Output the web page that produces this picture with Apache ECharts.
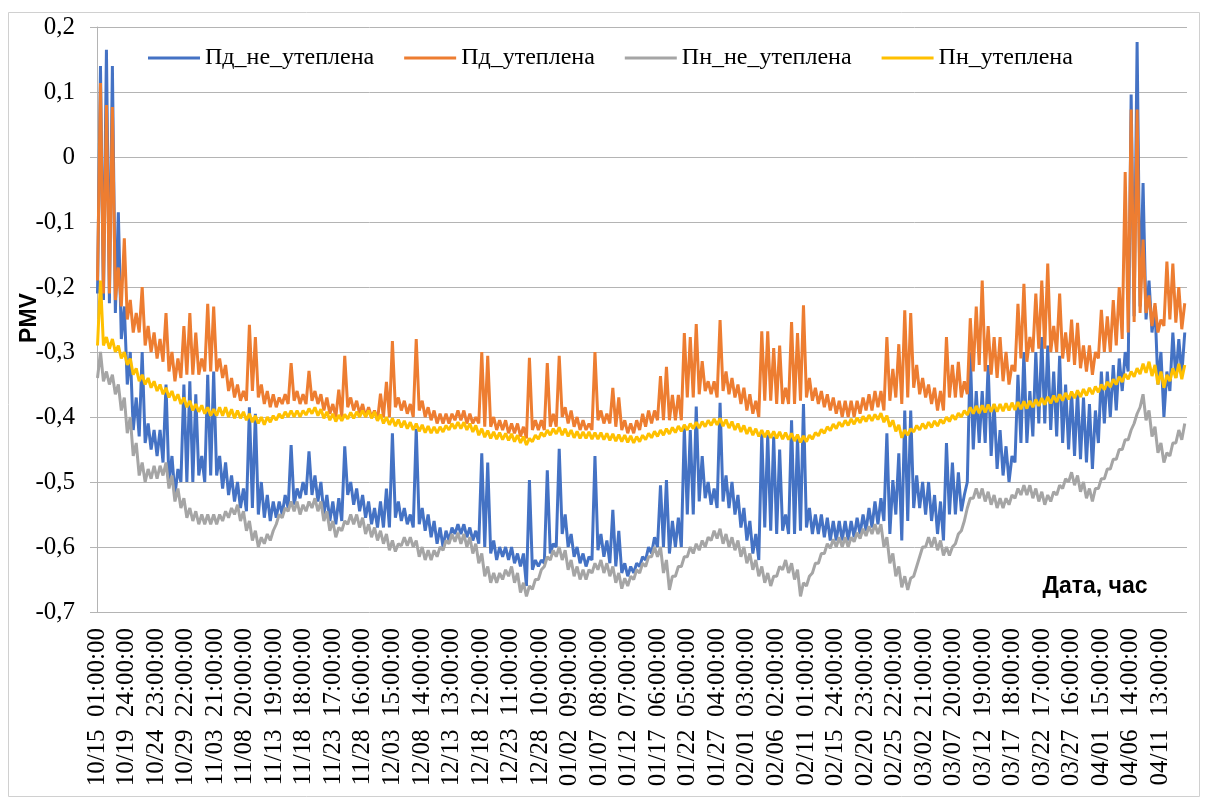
<!DOCTYPE html>
<html>
<head>
<meta charset="utf-8">
<script src="https://cdn.jsdelivr.net/npm/echarts@6/dist/echarts.min.js"></script>
<style>
  html, body { margin: 0; padding: 0; background: #fff; }
  #chart { width: 1208px; height: 801px; }
</style>
</head>
<body>
<div id="chart"></div>
<script>
// Category tick labels, one every 119 hours starting at 10/15 01:00
const tickLabels = [
  '10/15 01:00:00', '10/19 24:00:00', '10/24 23:00:00', '10/29 22:00:00', '11/03 21:00:00',
  '11/08 20:00:00', '11/13 19:00:00', '11/18 18:00:00', '11/23 17:00:00', '11/28 16:00:00',
  '12/03 15:00:00', '12/08 14:00:00', '12/13 13:00:00', '12/18 12:00:00', '12/23 11:00:00',
  '12/28 10:00:00', '01/02 09:00:00', '01/07 08:00:00', '01/12 07:00:00', '01/17 06:00:00',
  '01/22 05:00:00', '01/27 04:00:00', '02/01 03:00:00', '02/06 02:00:00', '02/11 01:00:00',
  '02/15 24:00:00', '02/20 23:00:00', '02/25 22:00:00', '03/02 21:00:00', '03/07 20:00:00',
  '03/12 19:00:00', '03/17 18:00:00', '03/22 17:00:00', '03/27 16:00:00', '04/01 15:00:00',
  '04/06 14:00:00', '04/11 13:00:00'
];
const TICK_STEP_HOURS = 119;
const LAST_HOUR = 4391;

const seriesNames = ['Пд_не_утеплена', 'Пд_утеплена', 'Пн_не_утеплена', 'Пн_утеплена'];

// Daily PMV values (day 0 = 10/15): night low and daytime high for each series
const pdNeHigh = [
  0.14, 0.165, 0.14, -0.085, -0.23, -0.30, -0.37, -0.30, -0.41, -0.42,
  -0.42, -0.35, -0.46, -0.48, -0.35, -0.345, -0.365, -0.46, -0.335, -0.33,
  -0.46, -0.47, -0.49, -0.50, -0.51, -0.385, -0.395, -0.50, -0.52, -0.53,
  -0.53, -0.52, -0.443, -0.51, -0.50, -0.453, -0.49, -0.50, -0.52, -0.53,
  -0.525, -0.445, -0.50, -0.51, -0.52, -0.53, -0.54, -0.53, -0.51, -0.425,
  -0.53, -0.54, -0.55, -0.418, -0.54, -0.55, -0.56, -0.57, -0.575, -0.57,
  -0.565, -0.565, -0.57, -0.575, -0.456, -0.47, -0.59, -0.60, -0.60, -0.60,
  -0.61, -0.61, -0.497, -0.62, -0.62, -0.482, -0.595, -0.449, -0.55, -0.58,
  -0.60, -0.61, -0.615, -0.46, -0.58, -0.59, -0.543, -0.575, -0.625, -0.63,
  -0.625, -0.615, -0.60, -0.585, -0.505, -0.497, -0.56, -0.555, -0.416, -0.42,
  -0.384, -0.46, -0.50, -0.51, -0.378, -0.49, -0.50, -0.52, -0.54, -0.56,
  -0.58, -0.425, -0.427, -0.43, -0.45, -0.55, -0.405, -0.43, -0.38, -0.54,
  -0.55, -0.55, -0.555, -0.56, -0.56, -0.56, -0.56, -0.555, -0.55, -0.54,
  -0.53, -0.525, -0.425, -0.497, -0.456, -0.39, -0.39, -0.49, -0.50, -0.50,
  -0.52, -0.53, -0.44, -0.47, -0.485, -0.52, -0.30, -0.36, -0.36, -0.32,
  -0.38, -0.42, -0.445, -0.46, -0.335, -0.30, -0.36, -0.30, -0.277, -0.29,
  -0.33, -0.306, -0.35, -0.36, -0.36, -0.37, -0.38, -0.39, -0.33, -0.33,
  -0.32, -0.31, -0.30, 0.096, 0.177, -0.04, -0.19, -0.23, -0.30, -0.33,
  -0.27, -0.28, -0.27
];
const pdNeLow = [
  -0.21, -0.22, -0.225, -0.24, -0.28, -0.35, -0.42, -0.43, -0.44, -0.45,
  -0.46, -0.47, -0.50, -0.52, -0.50, -0.50, -0.50, -0.49, -0.50, -0.49,
  -0.49, -0.51, -0.52, -0.53, -0.54, -0.545, -0.54, -0.55, -0.555, -0.56,
  -0.555, -0.55, -0.54, -0.535, -0.525, -0.52, -0.52, -0.53, -0.55, -0.56,
  -0.565, -0.56, -0.52, -0.535, -0.545, -0.555, -0.565, -0.57, -0.57, -0.57,
  -0.555, -0.56, -0.565, -0.57, -0.565, -0.575, -0.585, -0.595, -0.60, -0.59,
  -0.58, -0.58, -0.585, -0.59, -0.595, -0.60, -0.61, -0.62, -0.615, -0.62,
  -0.625, -0.63, -0.66, -0.635, -0.63, -0.625, -0.61, -0.60, -0.58, -0.60,
  -0.615, -0.625, -0.63, -0.62, -0.605, -0.615, -0.625, -0.63, -0.64, -0.645,
  -0.64, -0.63, -0.62, -0.61, -0.60, -0.60, -0.61, -0.60, -0.60, -0.55,
  -0.55, -0.53, -0.525, -0.535, -0.54, -0.53, -0.54, -0.55, -0.57, -0.59,
  -0.61, -0.62, -0.57, -0.575, -0.58, -0.575, -0.58, -0.58, -0.575, -0.57,
  -0.58, -0.58, -0.585, -0.59, -0.59, -0.59, -0.59, -0.585, -0.58, -0.575,
  -0.57, -0.565, -0.56, -0.58, -0.55, -0.59, -0.56, -0.54, -0.54, -0.55,
  -0.56, -0.58, -0.59, -0.55, -0.55, -0.545, -0.50, -0.45, -0.44, -0.44,
  -0.46, -0.48, -0.49, -0.50, -0.47, -0.44, -0.44, -0.43, -0.41, -0.41,
  -0.42, -0.43, -0.44, -0.45, -0.46, -0.465, -0.47, -0.48, -0.44, -0.41,
  -0.40, -0.39, -0.36, -0.33, -0.245, -0.23, -0.25, -0.27, -0.35, -0.40,
  -0.36, -0.34, -0.335
];
const pdUtHigh = [
  0.114, 0.08, 0.077, -0.17, -0.125, -0.22, -0.24, -0.20, -0.26, -0.27,
  -0.28, -0.24, -0.30, -0.31, -0.26, -0.24, -0.27, -0.31, -0.226, -0.23,
  -0.31, -0.32, -0.34, -0.35, -0.36, -0.258, -0.277, -0.35, -0.36, -0.365,
  -0.37, -0.365, -0.317, -0.36, -0.365, -0.329, -0.36, -0.365, -0.37, -0.38,
  -0.358, -0.306, -0.37, -0.375, -0.38, -0.385, -0.39, -0.364, -0.346, -0.283,
  -0.37, -0.375, -0.38, -0.28, -0.375, -0.385, -0.39, -0.395, -0.395, -0.395,
  -0.39, -0.39, -0.395, -0.40, -0.30, -0.306, -0.40, -0.405, -0.405, -0.41,
  -0.41, -0.415, -0.309, -0.405, -0.405, -0.317, -0.395, -0.306, -0.385, -0.39,
  -0.40, -0.405, -0.41, -0.30, -0.39, -0.395, -0.355, -0.37, -0.405, -0.41,
  -0.405, -0.395, -0.39, -0.39, -0.337, -0.323, -0.366, -0.366, -0.271, -0.277,
  -0.257, -0.314, -0.345, -0.345, -0.251, -0.33, -0.34, -0.35, -0.355, -0.365,
  -0.375, -0.268, -0.268, -0.294, -0.29, -0.355, -0.254, -0.271, -0.228, -0.34,
  -0.355, -0.36, -0.365, -0.37, -0.375, -0.375, -0.375, -0.375, -0.37, -0.365,
  -0.36, -0.36, -0.277, -0.326, -0.288, -0.236, -0.24, -0.32, -0.34, -0.35,
  -0.355, -0.36, -0.277, -0.32, -0.315, -0.345, -0.248, -0.23, -0.19, -0.26,
  -0.277, -0.277, -0.30, -0.32, -0.226, -0.195, -0.277, -0.21, -0.19, -0.164,
  -0.26, -0.21, -0.27, -0.25, -0.255, -0.29, -0.29, -0.30, -0.235, -0.245,
  -0.22, -0.20, -0.023, 0.073, 0.073, -0.127, -0.213, -0.225, -0.25, -0.161,
  -0.164, -0.20, -0.225
];
const pdUtLow = [
  -0.19, -0.21, -0.21, -0.22, -0.23, -0.25, -0.27, -0.27, -0.29, -0.30,
  -0.31, -0.315, -0.33, -0.345, -0.34, -0.335, -0.335, -0.335, -0.33, -0.33,
  -0.33, -0.34, -0.36, -0.37, -0.375, -0.375, -0.36, -0.37, -0.38, -0.385,
  -0.385, -0.38, -0.38, -0.375, -0.38, -0.38, -0.375, -0.38, -0.39, -0.395,
  -0.40, -0.40, -0.385, -0.39, -0.395, -0.40, -0.40, -0.405, -0.40, -0.40,
  -0.385, -0.39, -0.395, -0.40, -0.39, -0.40, -0.405, -0.41, -0.41, -0.41,
  -0.405, -0.405, -0.41, -0.41, -0.41, -0.415, -0.415, -0.42, -0.42, -0.425,
  -0.425, -0.43, -0.433, -0.42, -0.42, -0.42, -0.415, -0.415, -0.40, -0.41,
  -0.415, -0.42, -0.42, -0.42, -0.405, -0.41, -0.41, -0.415, -0.42, -0.425,
  -0.425, -0.42, -0.415, -0.41, -0.405, -0.405, -0.405, -0.405, -0.405, -0.37,
  -0.37, -0.365, -0.36, -0.365, -0.37, -0.36, -0.365, -0.37, -0.38, -0.39,
  -0.395, -0.40, -0.375, -0.375, -0.38, -0.38, -0.38, -0.38, -0.375, -0.37,
  -0.375, -0.38, -0.385, -0.39, -0.395, -0.40, -0.40, -0.40, -0.395, -0.39,
  -0.39, -0.385, -0.39, -0.375, -0.37, -0.38, -0.37, -0.355, -0.365, -0.37,
  -0.38, -0.39, -0.39, -0.37, -0.37, -0.37, -0.365, -0.33, -0.32, -0.33,
  -0.335, -0.34, -0.345, -0.35, -0.33, -0.31, -0.315, -0.30, -0.295, -0.295,
  -0.30, -0.30, -0.31, -0.315, -0.32, -0.325, -0.33, -0.335, -0.31, -0.30,
  -0.30, -0.29, -0.28, -0.27, -0.254, -0.24, -0.24, -0.26, -0.27, -0.26,
  -0.25, -0.255, -0.265
];
const pnNeHigh = [
  -0.30, -0.33, -0.335, -0.35, -0.37, -0.40, -0.44, -0.47, -0.48, -0.475,
  -0.475, -0.47, -0.49, -0.51, -0.525, -0.54, -0.545, -0.55, -0.55, -0.55,
  -0.55, -0.545, -0.54, -0.535, -0.545, -0.56, -0.575, -0.585, -0.58, -0.575,
  -0.55, -0.54, -0.53, -0.53, -0.535, -0.53, -0.525, -0.53, -0.545, -0.56,
  -0.57, -0.56, -0.55, -0.55, -0.555, -0.565, -0.57, -0.575, -0.58, -0.59,
  -0.595, -0.585, -0.585, -0.59, -0.60, -0.605, -0.605, -0.60, -0.59, -0.58,
  -0.578, -0.58, -0.585, -0.595, -0.61, -0.63, -0.64, -0.64, -0.635, -0.63,
  -0.64, -0.655, -0.66, -0.65, -0.635, -0.615, -0.605, -0.60, -0.605, -0.62,
  -0.63, -0.635, -0.635, -0.625, -0.62, -0.625, -0.63, -0.64, -0.648, -0.645,
  -0.635, -0.625, -0.615, -0.60, -0.60, -0.62, -0.645, -0.63, -0.615, -0.60,
  -0.595, -0.59, -0.585, -0.575, -0.572, -0.58, -0.585, -0.59, -0.60, -0.61,
  -0.62, -0.63, -0.64, -0.645, -0.63, -0.62, -0.625, -0.635, -0.655, -0.645,
  -0.625, -0.61, -0.595, -0.588, -0.585, -0.585, -0.585, -0.578, -0.572, -0.568,
  -0.565, -0.565, -0.585, -0.61, -0.63, -0.645, -0.648, -0.63, -0.60, -0.585,
  -0.585, -0.59, -0.60, -0.60, -0.58, -0.56, -0.525, -0.51, -0.51, -0.515,
  -0.52, -0.525, -0.525, -0.52, -0.51, -0.505, -0.505, -0.51, -0.515, -0.52,
  -0.515, -0.505, -0.495, -0.485, -0.49, -0.50, -0.51, -0.51, -0.495, -0.48,
  -0.465, -0.45, -0.435, -0.42, -0.395, -0.365, -0.39, -0.415, -0.44, -0.455,
  -0.44, -0.42, -0.41
];
const pnNeLow = [
  -0.34, -0.345, -0.35, -0.365, -0.39, -0.425, -0.46, -0.49, -0.50, -0.495,
  -0.495, -0.49, -0.51, -0.53, -0.54, -0.555, -0.56, -0.565, -0.565, -0.565,
  -0.565, -0.56, -0.555, -0.55, -0.56, -0.575, -0.59, -0.60, -0.595, -0.59,
  -0.565, -0.555, -0.545, -0.545, -0.55, -0.545, -0.54, -0.545, -0.56, -0.575,
  -0.585, -0.575, -0.565, -0.565, -0.57, -0.58, -0.585, -0.59, -0.595, -0.605,
  -0.607, -0.598, -0.598, -0.60, -0.615, -0.62, -0.62, -0.615, -0.605, -0.595,
  -0.592, -0.595, -0.60, -0.61, -0.625, -0.645, -0.655, -0.655, -0.65, -0.645,
  -0.655, -0.67, -0.676, -0.665, -0.65, -0.63, -0.62, -0.615, -0.62, -0.635,
  -0.645, -0.65, -0.65, -0.64, -0.635, -0.64, -0.645, -0.655, -0.664, -0.66,
  -0.65, -0.64, -0.63, -0.615, -0.615, -0.64, -0.666, -0.645, -0.63, -0.615,
  -0.61, -0.605, -0.60, -0.59, -0.587, -0.595, -0.60, -0.605, -0.615, -0.625,
  -0.635, -0.645, -0.655, -0.66, -0.645, -0.635, -0.64, -0.65, -0.676, -0.66,
  -0.64, -0.625, -0.61, -0.602, -0.60, -0.60, -0.60, -0.592, -0.587, -0.583,
  -0.58, -0.58, -0.60, -0.625, -0.645, -0.662, -0.666, -0.645, -0.615, -0.60,
  -0.60, -0.605, -0.613, -0.613, -0.595, -0.575, -0.54, -0.525, -0.525, -0.53,
  -0.535, -0.54, -0.54, -0.535, -0.525, -0.52, -0.52, -0.525, -0.53, -0.535,
  -0.53, -0.52, -0.51, -0.50, -0.505, -0.515, -0.525, -0.53, -0.51, -0.495,
  -0.48, -0.465, -0.45, -0.435, -0.41, -0.385, -0.405, -0.43, -0.455, -0.47,
  -0.46, -0.44, -0.435
];
const pnUtHigh = [
  -0.19, -0.277, -0.28, -0.29, -0.30, -0.31, -0.325, -0.335, -0.34, -0.345,
  -0.35, -0.355, -0.36, -0.365, -0.37, -0.375, -0.38, -0.382, -0.385, -0.388,
  -0.385, -0.385, -0.388, -0.39, -0.392, -0.395, -0.398, -0.40, -0.40, -0.398,
  -0.395, -0.392, -0.39, -0.39, -0.39, -0.387, -0.385, -0.388, -0.392, -0.395,
  -0.397, -0.396, -0.393, -0.392, -0.39, -0.39, -0.392, -0.396, -0.40, -0.402,
  -0.404, -0.406, -0.408, -0.41, -0.412, -0.414, -0.415, -0.415, -0.413, -0.41,
  -0.408, -0.408, -0.41, -0.413, -0.418, -0.421, -0.423, -0.424, -0.425, -0.426,
  -0.428, -0.43, -0.433, -0.428, -0.424, -0.42, -0.418, -0.416, -0.418, -0.42,
  -0.422, -0.423, -0.423, -0.424, -0.424, -0.425, -0.426, -0.427, -0.428, -0.429,
  -0.43, -0.428, -0.425, -0.422, -0.42, -0.418, -0.416, -0.414, -0.412, -0.41,
  -0.408, -0.407, -0.405, -0.403, -0.402, -0.404, -0.407, -0.41, -0.413, -0.416,
  -0.418, -0.42, -0.421, -0.422, -0.423, -0.424, -0.425, -0.427, -0.429, -0.428,
  -0.424, -0.419, -0.415, -0.411, -0.408, -0.405, -0.403, -0.401, -0.399, -0.397,
  -0.396, -0.394, -0.398, -0.405, -0.412, -0.42, -0.418, -0.413, -0.41, -0.408,
  -0.406, -0.404, -0.4, -0.397, -0.394, -0.39, -0.385, -0.383, -0.382, -0.381,
  -0.38, -0.38, -0.379, -0.378, -0.377, -0.376, -0.375, -0.373, -0.371, -0.369,
  -0.367, -0.365, -0.363, -0.361, -0.359, -0.357, -0.355, -0.353, -0.35, -0.346,
  -0.342, -0.338, -0.334, -0.33, -0.325, -0.318, -0.315, -0.32, -0.33, -0.335,
  -0.325, -0.318, -0.32
];
const pnUtLow = [
  -0.29, -0.29, -0.295, -0.30, -0.31, -0.32, -0.335, -0.345, -0.35, -0.355,
  -0.36, -0.365, -0.37, -0.375, -0.38, -0.385, -0.39, -0.392, -0.395, -0.398,
  -0.398, -0.398, -0.40, -0.402, -0.402, -0.405, -0.408, -0.41, -0.412, -0.408,
  -0.405, -0.402, -0.40, -0.40, -0.40, -0.397, -0.395, -0.398, -0.402, -0.405,
  -0.407, -0.406, -0.403, -0.402, -0.40, -0.40, -0.402, -0.406, -0.41, -0.412,
  -0.414, -0.416, -0.418, -0.42, -0.422, -0.424, -0.425, -0.425, -0.423, -0.42,
  -0.418, -0.418, -0.42, -0.423, -0.428, -0.431, -0.433, -0.434, -0.435, -0.436,
  -0.438, -0.44, -0.443, -0.438, -0.434, -0.43, -0.428, -0.426, -0.428, -0.43,
  -0.432, -0.433, -0.433, -0.434, -0.434, -0.435, -0.436, -0.437, -0.438, -0.439,
  -0.44, -0.438, -0.435, -0.432, -0.43, -0.428, -0.426, -0.424, -0.422, -0.42,
  -0.418, -0.417, -0.415, -0.413, -0.412, -0.414, -0.417, -0.42, -0.423, -0.426,
  -0.428, -0.43, -0.431, -0.432, -0.433, -0.434, -0.435, -0.437, -0.439, -0.438,
  -0.434, -0.429, -0.425, -0.421, -0.418, -0.415, -0.413, -0.411, -0.409, -0.407,
  -0.406, -0.404, -0.408, -0.415, -0.422, -0.432, -0.428, -0.423, -0.42, -0.418,
  -0.416, -0.414, -0.41, -0.407, -0.404, -0.40, -0.397, -0.395, -0.394, -0.393,
  -0.392, -0.392, -0.391, -0.39, -0.389, -0.388, -0.387, -0.385, -0.383, -0.381,
  -0.379, -0.377, -0.375, -0.373, -0.371, -0.369, -0.367, -0.365, -0.362, -0.358,
  -0.354, -0.35, -0.346, -0.342, -0.338, -0.334, -0.332, -0.337, -0.35, -0.355,
  -0.345, -0.34, -0.342
];

const seriesColors = ['#4472C4', '#ED7D31', '#A5A5A5', '#FFC000'];

// Turn a day's low/high pair into two hourly readings (02:00 and 14:00)
function dailyReadings(low, high) {
  const pts = [];
  for (let d = 0; d < low.length; d++) {
    pts.push([d * 24 + 2, low[d]]);
    pts.push([d * 24 + 14, high[d]]);
  }
  return pts;
}

const seriesData = [
  dailyReadings(pdNeLow, pdNeHigh),
  dailyReadings(pdUtLow, pdUtHigh),
  dailyReadings(pnNeLow, pnNeHigh),
  dailyReadings(pnUtLow, pnUtHigh)
];

const gridColor = '#b4b4b4';
const serif = '"Liberation Serif", "Times New Roman", serif';
const sans = '"Liberation Sans", Arial, sans-serif';

const chart = echarts.init(document.getElementById('chart'), null, { renderer: 'canvas' });

chart.setOption({
  animation: false,
  backgroundColor: '#fff',
  grid: { left: 97, right: 21, top: 27, bottom: 189, containLabel: false },
  legend: {
    data: seriesNames,
    left: 148,
    top: 46,
    padding: 0,
    icon: 'rect',
    itemWidth: 52,
    itemHeight: 3,
    itemGap: 30,
    textStyle: { fontFamily: serif, fontSize: 24, color: '#000' }
  },
  xAxis: {
    type: 'value',
    min: 0,
    max: LAST_HOUR,
    interval: TICK_STEP_HOURS,
    splitLine: { show: false },
    axisTick: { show: false },
    axisLine: { show: true, lineStyle: { color: gridColor, width: 1 } },
    axisLabel: {
      rotate: 90,
      margin: 16,
      showMaxLabel: false,
      fontFamily: serif,
      fontSize: 25,
      color: '#000',
      formatter: function (v) {
        const i = Math.round(v / TICK_STEP_HOURS);
        // date and time are set apart by a wider gap
        return tickLabels[i] !== undefined ? tickLabels[i].replace(' ', '  ') : '';
      }
    }
  },
  yAxis: {
    type: 'value',
    min: -0.7,
    max: 0.2,
    interval: 0.1,
    axisLine: { show: true, lineStyle: { color: gridColor, width: 1 } },
    axisTick: { show: true, length: 7, lineStyle: { color: gridColor } },
    splitLine: { show: true, lineStyle: { color: gridColor, width: 1 } },
    axisLabel: {
      margin: 22,
      fontFamily: serif,
      fontSize: 25,
      color: '#000',
      formatter: function (v) {
        if (Math.abs(v) < 1e-9) return '0';
        return v.toFixed(1).replace('.', ',');
      }
    }
  },
  series: seriesNames.map(function (name, i) {
    return {
      name: name,
      type: 'line',
      data: seriesData[i],
      showSymbol: false,
      symbol: 'none',
      clip: true,
      itemStyle: { color: seriesColors[i] },
      lineStyle: { color: seriesColors[i], width: 3 }
    };
  }),
  graphic: [
    {
      type: 'rect',
      silent: true,
      shape: { x: 8.5, y: 12.5, width: 1191, height: 784 },
      style: { fill: 'none', stroke: '#d0d0d0', lineWidth: 1 },
      z: -10
    },
    {
      type: 'text',
      x: 30,
      y: 318,
      rotation: Math.PI / 2,
      style: {
        text: 'PMV',
        font: 'bold 23px ' + sans,
        fill: '#000',
        textAlign: 'center',
        textVerticalAlign: 'middle',
        align: 'center',
        verticalAlign: 'middle'
      }
    },
    {
      type: 'text',
      x: 1095,
      y: 587,
      z: 100,
      style: {
        text: 'Дата, час',
        font: 'bold 23px ' + sans,
        fill: '#000',
        textAlign: 'center',
        textVerticalAlign: 'middle',
        align: 'center',
        verticalAlign: 'middle'
      }
    }
  ]
});
</script>
</body>
</html>
